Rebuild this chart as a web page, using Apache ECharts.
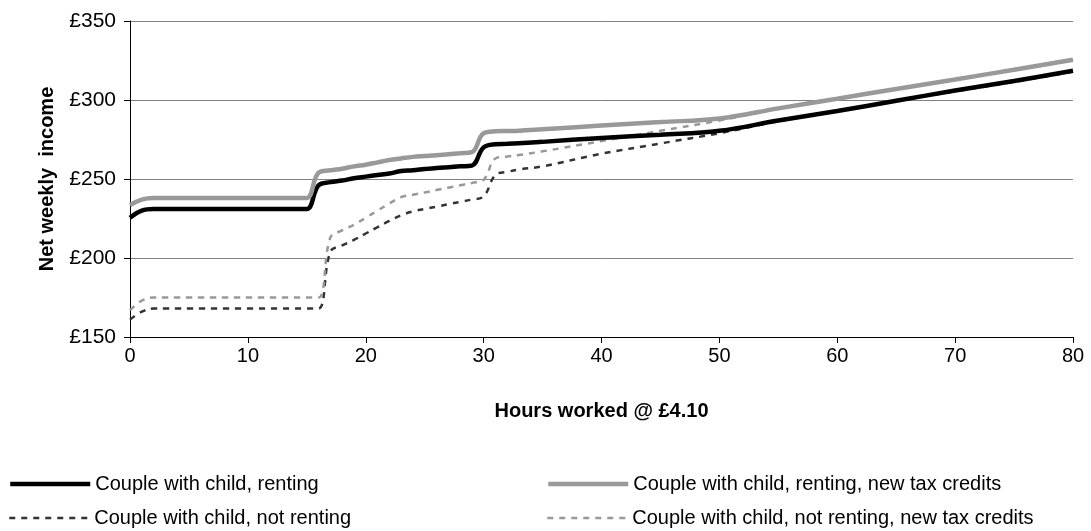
<!DOCTYPE html>
<html>
<head>
<meta charset="utf-8">
<script src="https://cdn.jsdelivr.net/npm/echarts@6/dist/echarts.min.js"></script>
<style>html,body{margin:0;padding:0;background:#fff;}#c{width:1091px;height:531px;}</style>
</head>
<body>
<div id="c"></div>
<script>
var hours = [0,1,2,3,4,5,6,7,8,9,10,11,12,13,14,15,16,17,18,19,20,21,22,23,24,25,26,27,28,29,30,31,32,33,35,40,45,50,55,60,65,70,75,80];
var renting = [225.5,230,231,231,231,231,231,231,231,231,231,231,231,231,231,231,246,248,249,250.5,251.5,252.5,253.5,255,255.5,256.3,257,257.5,258,258.5,270,272,272.3,272.7,273.5,276,278,280.5,287,293,299.5,306,312,318.5];
var rentingNTC = [233.5,237,238,238,238,238,238,238,238,238,238,238,238,238,238,238,254,255.5,256.5,258,259,260.5,262,263,264,264.5,265,265.7,266.3,267,279,280.2,280.4,280.6,281.5,283.8,286,288.3,294.7,300.8,307,313,319.2,325.5];
var notRenting = [161,166,168,168,168,168,168,168,168,168,168,168,168,168,168,168,168,204,208,211.5,215.5,219.5,223.5,227,229.5,231,232.5,234,235.5,237,239,252.5,254.5,256,258,266,272.5,279,286.5,293,299.5,305.5,311.5,318];
var notRentingNTC = [167,173,175,175,175,175,175,175,175,175,175,175,175,175,175,175,175,213,217.5,221,225.5,230,234.5,238.5,240,241.5,243,244.5,246,247.5,249.5,263,264.3,265.2,267.5,274,280.5,287,294.5,300.8,307,313,319.2,325.5];
var names = ['Couple with child, renting','Couple with child, renting, new tax credits','Couple with child, not renting','Couple with child, not renting, new tax credits'];

function pairs(v){ return hours.map(function(h,i){ return [h, v[i]]; }); }
var FONT = 'Liberation Sans, Arial, sans-serif';
var chart = echarts.init(document.getElementById('c'));
function legendCfg(left, top, name, width, dash){
  return {left:left, top:top, orient:'horizontal', itemWidth:80, itemHeight:14,
    data:[name], itemStyle:{opacity:0},
    lineStyle:{width:width, type:dash},
    textStyle:{fontFamily:FONT, fontSize:20, color:'#000'}};
}
chart.setOption({
  animation:false,
  grid:{left:130, right:18, top:21, bottom:194},
  legend:[
    legendCfg(3, 469, names[0], 4.5, 'solid'),
    legendCfg(3, 503, names[2], 2.5, [6,6]),
    legendCfg(541, 469, names[1], 4.5, 'solid'),
    legendCfg(541, 503, names[3], 2.5, [6,6])
  ],
  xAxis:{type:'value', min:0, max:80, interval:10,
    name:'Hours worked @ £4.10', nameLocation:'middle', nameGap:64,
    nameTextStyle:{fontFamily:FONT, fontSize:20, fontWeight:'bold', color:'#000'},
    axisLine:{lineStyle:{color:'#000', width:1}},
    axisTick:{show:true, length:6, lineStyle:{color:'#000'}},
    axisLabel:{fontFamily:FONT, fontSize:20, color:'#000', margin:9},
    splitLine:{show:false}},
  yAxis:{type:'value', min:150, max:350, interval:50,
    name:'Net weekly  income', nameLocation:'middle', nameGap:73,
    nameTextStyle:{fontFamily:FONT, fontSize:20, fontWeight:'bold', color:'#000'},
    axisLine:{show:true, lineStyle:{color:'#000', width:1}},
    axisTick:{show:true, length:6, lineStyle:{color:'#000'}},
    axisLabel:{fontFamily:FONT, fontSize:21, color:'#000', margin:14, formatter:function(v){return '£'+v;}},
    splitLine:{show:true, lineStyle:{color:'#808080', width:1}}},
  series:[
    {name:names[2], type:'line', smooth:0.4, symbol:'none', data:pairs(notRenting), lineStyle:{color:'#333', width:2.5, type:[6,6]}, itemStyle:{color:'#333'}},
    {name:names[3], type:'line', smooth:0.4, symbol:'none', data:pairs(notRentingNTC), lineStyle:{color:'#999', width:2.5, type:[6,6]}, itemStyle:{color:'#999'}},
    {name:names[0], type:'line', smooth:0.4, symbol:'none', data:pairs(renting), lineStyle:{color:'#000', width:4.5}, itemStyle:{color:'#000'}},
    {name:names[1], type:'line', smooth:0.4, symbol:'none', data:pairs(rentingNTC), lineStyle:{color:'#999', width:4.5}, itemStyle:{color:'#999'}}
  ]
});
</script>
</body>
</html>
